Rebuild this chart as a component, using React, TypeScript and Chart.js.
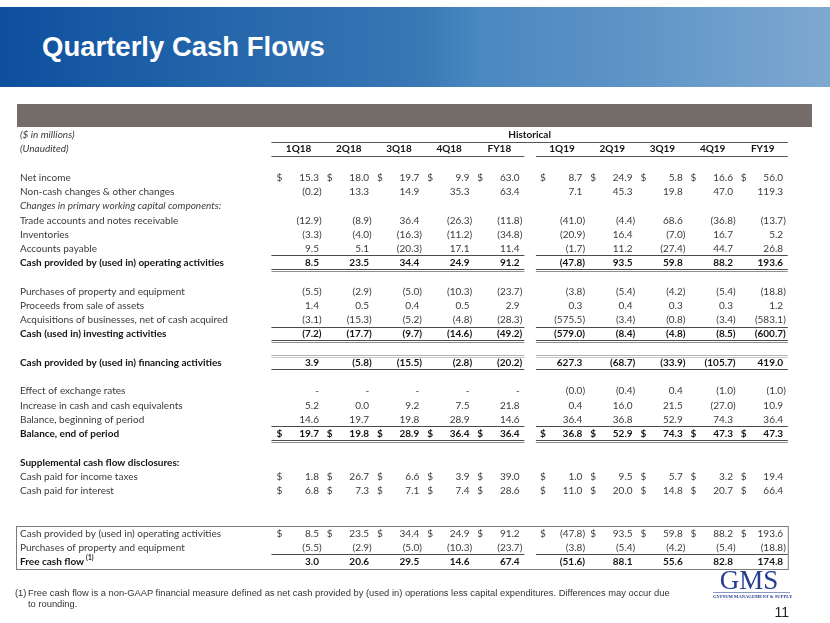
import React, { useEffect, useRef } from "react";
import { Chart, registerables } from "chart.js";

Chart.register(...registerables);

// ---------- data ----------
const columns = ["1Q18", "2Q18", "3Q18", "4Q18", "FY18", "1Q19", "2Q19", "3Q19", "4Q19", "FY19"];
const groupLabel = "Historical";

const netIncome = [15.3, 18.0, 19.7, 9.9, 63.0, 8.7, 24.9, 5.8, 16.6, 56.0];
const nonCashChanges = [-0.2, 13.3, 14.9, 35.3, 63.4, 7.1, 45.3, 19.8, 47.0, 119.3];
const tradeReceivables = [-12.9, -8.9, 36.4, -26.3, -11.8, -41.0, -4.4, 68.6, -36.8, -13.7];
const inventories = [-3.3, -4.0, -16.3, -11.2, -34.8, -20.9, 16.4, -7.0, 16.7, 5.2];
const accountsPayable = [9.5, 5.1, -20.3, 17.1, 11.4, -1.7, 11.2, -27.4, 44.7, 26.8];
const operatingCash = [8.5, 23.5, 34.4, 24.9, 91.2, -47.8, 93.5, 59.8, 88.2, 193.6];
const capex = [-5.5, -2.9, -5.0, -10.3, -23.7, -3.8, -5.4, -4.2, -5.4, -18.8];
const assetSales = [1.4, 0.5, 0.4, 0.5, 2.9, 0.3, 0.4, 0.3, 0.3, 1.2];
const acquisitions = [-3.1, -15.3, -5.2, -4.8, -28.3, -575.5, -3.4, -0.8, -3.4, -583.1];
const investingCash = [-7.2, -17.7, -9.7, -14.6, -49.2, -579.0, -8.4, -4.8, -8.5, -600.7];
const financingCash = [3.9, -5.8, -15.5, -2.8, -20.2, 627.3, -68.7, -33.9, -105.7, 419.0];
const fxEffect = [0, 0, 0, 0, 0, -0.04, -0.4, 0.4, -1.0, -1.0];
const cashIncrease = [5.2, 0.04, 9.2, 7.5, 21.8, 0.4, 16.0, 21.5, -27.0, 10.9];
const balanceBegin = [14.6, 19.7, 19.8, 28.9, 14.6, 36.4, 36.8, 52.9, 74.3, 36.4];
const balanceEnd = [19.7, 19.8, 28.9, 36.4, 36.4, 36.8, 52.9, 74.3, 47.3, 47.3];
const taxesPaid = [1.8, 26.7, 6.6, 3.9, 39.0, 1.0, 9.5, 5.7, 3.2, 19.4];
const interestPaid = [6.8, 7.3, 7.1, 7.4, 28.6, 11.0, 20.0, 14.8, 20.7, 66.4];
const freeCashFlow = [3.0, 20.6, 29.5, 14.6, 67.4, -51.6, 88.1, 55.6, 82.8, 174.8];

type Row = {
  label: string;
  values?: number[];
  bold?: boolean;
  italic?: boolean;
  dollar?: boolean;
  note?: string;
};

const rows: Row[] = [
  { label: "($ in millions)", italic: true },
  { label: "(Unaudited)", italic: true },
  { label: "" },
  { label: "Net income", values: netIncome, dollar: true },
  { label: "Non-cash changes & other changes", values: nonCashChanges },
  { label: "Changes in primary working capital components:", italic: true },
  { label: "Trade accounts and notes receivable", values: tradeReceivables },
  { label: "Inventories", values: inventories },
  { label: "Accounts payable", values: accountsPayable },
  { label: "Cash provided by (used in) operating activities", values: operatingCash, bold: true },
  { label: "" },
  { label: "Purchases of property and equipment", values: capex },
  { label: "Proceeds from sale of assets", values: assetSales },
  { label: "Acquisitions of businesses, net of cash acquired", values: acquisitions },
  { label: "Cash (used in) investing activities", values: investingCash, bold: true },
  { label: "" },
  { label: "Cash provided by (used in) financing activities", values: financingCash, bold: true },
  { label: "" },
  { label: "Effect of exchange rates", values: fxEffect },
  { label: "Increase in cash and cash equivalents", values: cashIncrease },
  { label: "Balance, beginning of period", values: balanceBegin },
  { label: "Balance, end of period", values: balanceEnd, bold: true, dollar: true },
  { label: "" },
  { label: "Supplemental cash flow disclosures:", bold: true },
  { label: "Cash paid for income taxes", values: taxesPaid, dollar: true },
  { label: "Cash paid for interest", values: interestPaid, dollar: true },
  { label: "" },
  { label: "" },
  { label: "Cash provided by (used in) operating activities", values: operatingCash, dollar: true },
  { label: "Purchases of property and equipment", values: capex },
  { label: "Free cash flow", values: freeCashFlow, bold: true, note: "(1)" },
];

// ---------- layout helpers ----------
const GAP = 0.25; // extra spacing between the two years' blocks (in column units)
const colPos = (j: number) => j + (j >= 5 ? GAP : 0);

const FONT = 'Lato, "Open Sans", sans-serif';
const TABLE_SIZE = 10;
const TEXT = "#3a3a3a";
const TEXT_BOLD = "#141414";

// rule lines: drawn below row `after`
const rules: { after: number; kind: "single" | "double" | "light" }[] = [
  { after: 8, kind: "single" },
  { after: 9, kind: "double" },
  { after: 13, kind: "single" },
  { after: 14, kind: "double" },
  { after: 15, kind: "light" },
  { after: 16, kind: "single" },
  { after: 20, kind: "single" },
  { after: 21, kind: "double" },
  { after: 29, kind: "single" },
];

function fmt(v: number): string {
  if (v === 0) return "-";
  const a = Math.abs(v).toFixed(1);
  return v < 0 ? `(${a})` : a;
}

function drawText(
  ctx: CanvasRenderingContext2D,
  s: string,
  x: number,
  y: number,
  align: CanvasTextAlign,
  opts: { bold?: boolean; italic?: boolean; size?: number; color?: string } = {}
) {
  ctx.save();
  ctx.font = `${opts.italic ? "italic " : ""}${opts.bold ? "bold " : ""}${opts.size ?? TABLE_SIZE}px ${FONT}`;
  ctx.fillStyle = opts.color ?? (opts.bold ? TEXT_BOLD : TEXT);
  ctx.textAlign = align;
  ctx.textBaseline = "middle";
  ctx.fillText(s, x, y);
  const w = ctx.measureText(s).width;
  ctx.restore();
  return w;
}

const tablePlugin = {
  id: "cashFlowTable",
  afterDraw(chart: any) {
    const ctx: CanvasRenderingContext2D = chart.ctx;
    const xs = chart.scales.x;
    const ys = chart.scales.y;
    const rowY = (i: number) => ys.getPixelForValue(i);
    const step = Math.abs(rowY(1) - rowY(0));
    const colX = (j: number) => xs.getPixelForValue(colPos(j));
    const unit = colX(1) - colX(0);
    const aL = colX(0) - unit;
    const aR = colX(4) + 2;
    const bL = colX(5) - unit + 1;
    const bR = colX(9) + 2;
    const labelX = 20;

    const hline = (x1: number, x2: number, y: number, color: string, h = 1) => {
      ctx.fillStyle = color;
      ctx.fillRect(x1, Math.round(y), x2 - x1, h);
    };
    const rule = (y: number, kind: string) => {
      for (const [l, r] of [
        [aL, aR],
        [bL, bR],
      ]) {
        if (kind === "single") hline(l, r, y - 0.5, "#4a4a4a");
        else if (kind === "double") {
          hline(l, r, y - 1, "#4d4d4d");
          hline(l, r, y + 1, "#8e8e8e");
        } else {
          hline(l, r, y - 1, "#b0b0b0");
          hline(l, r, y + 1, "#c8c8c8");
        }
      }
    };

    // header
    drawText(ctx, groupLabel, (aL + bR) / 2, rowY(0), "center", { bold: true });
    hline(aL, bR, rowY(0) + step / 2, "#555555");
    columns.forEach((c, j) => {
      drawText(ctx, c, colX(j) - 23, rowY(1), "center", { bold: true });
    });
    hline(aL, aR, rowY(1) + step / 2 - 0.5, "#555555");
    hline(bL, bR, rowY(1) + step / 2 - 0.5, "#555555");

    rules.forEach((r) => rule(rowY(r.after) + step / 2, r.kind));

    // free cash flow box
    const boxTop = Math.round(rowY(27) + step / 2) + 0.5;
    const boxBot = Math.round(rowY(30) + step / 2) + 0.5;
    ctx.save();
    ctx.strokeStyle = "#7c7c7c";
    ctx.lineWidth = 1;
    ctx.strokeRect(16.5, boxTop, bR - 16, boxBot - boxTop);
    ctx.restore();

    // row labels
    rows.forEach((r, i) => {
      if (!r.label) return;
      const w = drawText(ctx, r.label, labelX, rowY(i), "left", { bold: r.bold, italic: r.italic });
      if (r.note) {
        drawText(ctx, r.note, labelX + w + 2, rowY(i) - 3.5, "left", { bold: true, size: 6.5 });
      }
    });

    // values, positioned by the library's scales
    ctx.save();
    ctx.font = `${TABLE_SIZE}px ${FONT}`;
    const parenW = ctx.measureText(")").width;
    ctx.restore();
    chart.data.datasets.forEach((ds: any, d: number) => {
      const row: Row = rows[ds.rowIndex];
      const meta = chart.getDatasetMeta(d);
      meta.data.forEach((pt: any, j: number) => {
        const v = ds.data[j].v as number;
        const s = fmt(v);
        const x = v < 0 ? pt.x : pt.x - parenW;
        drawText(ctx, s, x, pt.y, "right", { bold: row.bold });
        if (row.dollar) drawText(ctx, "$", pt.x - 45, pt.y, "left", { bold: row.bold });
      });
    });
  },
};

export default function App() {
  const canvasRef = useRef<HTMLCanvasElement | null>(null);

  useEffect(() => {
    if (!canvasRef.current) return;
    const datasets = rows
      .map((r, i) => ({ r, i }))
      .filter(({ r }) => !!r.values)
      .map(({ r, i }) => ({
        label: r.label,
        rowIndex: i,
        data: (r.values as number[]).map((v, j) => ({ x: colPos(j), y: i, v })),
        pointRadius: 0,
        showLine: false,
      }));

    const chart = new Chart(canvasRef.current, {
      type: "scatter",
      data: { datasets } as any,
      options: {
        animation: false,
        responsive: false,
        devicePixelRatio: 1,
        events: [],
        layout: { padding: { left: 321.6, right: 44.2, top: 127.9, bottom: 54 } },
        scales: {
          x: { type: "linear", min: 0, max: colPos(columns.length - 1), display: false },
          y: { type: "linear", min: -0.5, max: rows.length - 0.5, reverse: true, display: false },
        },
        plugins: { legend: { display: false }, tooltip: { enabled: false } },
      },
      plugins: [tablePlugin],
    });
    return () => chart.destroy();
  }, []);

  const footStyle: React.CSSProperties = {
    position: "absolute",
    top: 588,
    fontSize: 9.35,
    lineHeight: "11px",
    color: "#333333",
    whiteSpace: "nowrap",
  };

  return (
    <div
      style={{
        position: "absolute",
        left: 0,
        top: 0,
        width: 830,
        height: 623,
        background: "#ffffff",
        overflow: "hidden",
        fontFamily: '"Liberation Sans", Arial, sans-serif',
      }}
    >
      <div
        style={{
          position: "absolute",
          left: 0,
          top: 7,
          width: 830,
          height: 80,
          background:
            "linear-gradient(90deg, #0d4f9e 0%, #2365aa 25%, #3977b5 50%, #4a88c0 58%, #5d93c6 75%, #7ea9d0 100%)",
        }}
      />
      <div
        style={{
          position: "absolute",
          left: 42,
          top: 33,
          color: "#ffffff",
          fontWeight: "bold",
          fontSize: 27.5,
          lineHeight: "27.5px",
          whiteSpace: "nowrap",
        }}
      >
        Quarterly Cash Flows
      </div>
      <div
        style={{
          position: "absolute",
          left: 17,
          top: 104,
          width: 795,
          height: 23,
          background: "#746c69",
        }}
      />
      <canvas
        ref={canvasRef}
        width={830}
        height={623}
        style={{ position: "absolute", left: 0, top: 0, width: 830, height: 623 }}
      />
      <div style={{ ...footStyle, left: 15 }}>(1)</div>
      <div style={{ ...footStyle, left: 28 }}>
        Free cash flow is a non-GAAP financial measure defined as net cash provided by (used in) operations less capital
        expenditures. Differences may occur due
        <br />
        to rounding.
      </div>
      <div
        style={{
          position: "absolute",
          left: 708,
          top: 567,
          width: 82,
          textAlign: "center",
          color: "#243c8e",
          fontFamily: '"Liberation Serif", "DejaVu Serif", serif',
          fontSize: 27,
          lineHeight: "27px",
        }}
      >
        GMS
      </div>
      <div
        style={{
          position: "absolute",
          left: 713,
          top: 592,
          width: 77,
          height: 1,
          background: "#8b97c4",
        }}
      />
      <div
        style={{
          position: "absolute",
          left: 713,
          top: 594,
          width: 77,
          textAlign: "center",
          color: "#243c8e",
          fontFamily: '"Liberation Serif", "DejaVu Serif", serif',
          fontSize: 4.6,
          lineHeight: "5px",
          fontWeight: "bold",
          whiteSpace: "nowrap",
        }}
      >
        GYPSUM MANAGEMENT &amp; SUPPLY
      </div>
      <div
        style={{
          position: "absolute",
          right: 830 - 789,
          top: 604,
          fontSize: 14,
          lineHeight: "16px",
          color: "#222222",
        }}
      >
        11
      </div>
    </div>
  );
}
